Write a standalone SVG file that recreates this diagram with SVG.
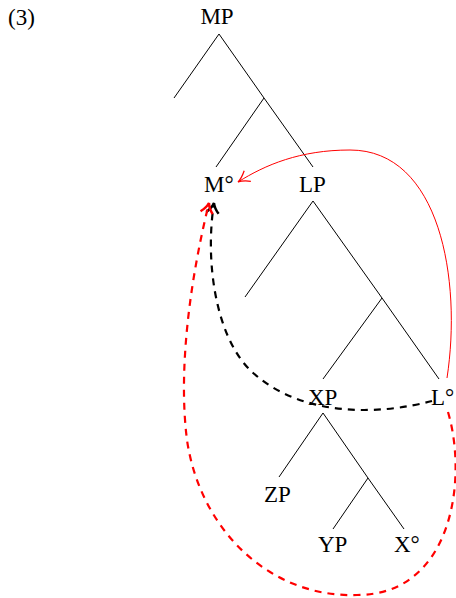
<svg xmlns="http://www.w3.org/2000/svg" width="456" height="598" viewBox="0 0 456 598">
<defs>
<style>
text{font-family:"Liberation Serif","Times New Roman",serif;font-size:23px;fill:#000}
.br{stroke:#000;stroke-width:1;fill:none}
.mv{fill:none;stroke-width:1}
.dash{stroke-width:2.2;stroke-dasharray:7 6;fill:none}
</style>
<marker id="ahR" markerUnits="userSpaceOnUse" markerWidth="20" markerHeight="20" viewBox="-12 -8 14 16" refX="0" refY="0" orient="auto">
<path d="M-9,-5 Q-4,-1 0,0 Q-4,1 -9,5" fill="none" stroke="#f00" stroke-width="1"/>
</marker>
<marker id="ahK" markerUnits="userSpaceOnUse" markerWidth="20" markerHeight="20" viewBox="-12 -8 14 16" refX="0" refY="0" orient="auto">
<path d="M-8,-5 Q-4,-1 0,0 Q-4,1 -8,5" fill="none" stroke="#000" stroke-width="2"/>
</marker>
<marker id="ahRD" markerUnits="userSpaceOnUse" markerWidth="20" markerHeight="20" viewBox="-12 -8 14 16" refX="0" refY="0" orient="auto">
<path d="M-8,-5 Q-4,-1 0,0 Q-4,1 -8,5" fill="none" stroke="#f00" stroke-width="2"/>
</marker>
</defs>
<text x="8" y="25">(3)</text>
<g id="MP"><text x="217" y="24" text-anchor="middle">MP</text></g>
<g id="Mhead"><text x="204" y="192">M°</text></g>
<g id="LP"><text x="299" y="192">LP</text></g>
<g id="XP"><text x="308" y="405">XP</text></g>
<g id="Lhead"><text x="431" y="405">L°</text></g>
<g id="ZP"><text x="264" y="502">ZP</text></g>
<g id="YP"><text x="318" y="552">YP</text></g>
<g id="Xhead"><text x="394" y="552">X°</text></g>
<g id="branches" class="br">
<path class="br" d="M219,34 L174,98"/>
<path class="br" d="M219,34 L264,98 L313,167"/>
<path class="br" d="M264,98 L216,167"/>
<path class="br" d="M313,201 L245,297"/>
<path class="br" d="M313,201 L382,298 L439,379"/>
<path class="br" d="M382,298 L323,379"/>
<path class="br" d="M323,413 L279,477"/>
<path class="br" d="M323,413 L368,478 L404,529"/>
<path class="br" d="M368,478 L333,529"/>
</g>
<g id="connectors">
<path class="mv" stroke="#f00" d="M447,378 C462,280 440,150 350,150 C300,150 265,165 238,182" marker-end="url(#ahR)"/>
<path class="dash" stroke="#000" d="M432,401 C380,415 300,418 250,370 C215,335 205,260 214,203" marker-end="url(#ahK)"/>
<path class="dash" stroke="#f00" d="M448,412 C468,480 452,595 357,595 C270,598 200,530 187,440 C178,370 190,280 209,203" marker-end="url(#ahRD)"/>
</g>
</svg>
